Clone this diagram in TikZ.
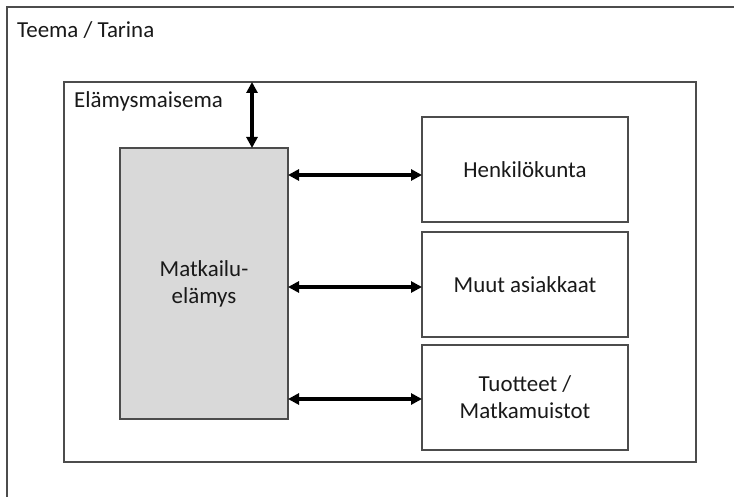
\documentclass[tikz,border=0pt]{standalone}
\usepackage{fontspec}
\setmainfont{Carlito}
\usetikzlibrary{arrows.meta}
\begin{document}
\begin{tikzpicture}[x=1bp,y=-1bp,
  frame/.style={draw=black!70, line width=1.3bp, outer sep=0pt, inner sep=0pt},
  txt/.style={font=\fontsize{23}{27}\selectfont, text=black!90},
  itembox/.style={frame, txt, minimum width=206bp, minimum height=105bp, align=center},
  lbl/.style={txt, inner sep=0pt},
  link/.style={line width=3.5bp, {Triangle[length=11bp,width=11bp]}-{Triangle[length=11bp,width=11bp]}}]
\useasboundingbox (0,0) rectangle (734,497);
\fill[white] (0,0) rectangle (734,497);
% outer theme frame: only its top and left sides fall inside the page
\coordinate (themeNW) at (7,7);
\coordinate (themeNE) at (734,7);
\coordinate (themeSW) at (7,497);
\draw[black!70, line width=1.3bp] (themeNE) -- (themeNW) -- (themeSW);
\node[lbl, anchor=base west] (themelbl) at (17,38) {Teema / Tarina};
% experience landscape
\node[frame, minimum width=632bp, minimum height=380bp] (scape) at (380,272) {};
\node[lbl, anchor=base west] (scapelbl) at (74,108) {Elämysmaisema};
% central experience
\node[frame, txt, fill=black!15, minimum width=168bp, minimum height=271bp, align=center] (exp) at (204,283.5) {Matkailu-\\elämys};
% right-hand boxes
\node[itembox] (staff) at (525,169.5) {Henkilökunta};
\node[itembox] (guests) at (525,284.5) {Muut asiakkaat};
\node[itembox] (goods) at (525,397.5) {Tuotteet /\\Matkamuistot};
% connectors
\coordinate (vx) at (252,0);
\coordinate (h1) at (0,175);
\coordinate (h2) at (0,287);
\coordinate (h3) at (0,399);
\draw[link] (exp.north -| vx) -- (scape.north -| vx);
\draw[link] (exp.east |- h1) -- (staff.west |- h1);
\draw[link] (exp.east |- h2) -- (guests.west |- h2);
\draw[link] (exp.east |- h3) -- (goods.west |- h3);
\end{tikzpicture}
\end{document}
